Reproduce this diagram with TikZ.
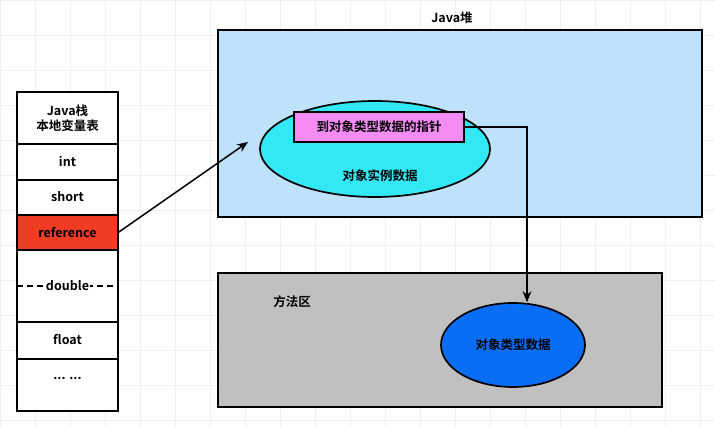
\documentclass[tikz,border=0pt]{standalone}
\usepackage{fontspec}
\setmainfont{Noto Sans CJK SC}[BoldFont={Noto Sans CJK SC Bold}]
\usetikzlibrary{shapes.geometric,arrows.meta}
\begin{document}
\begin{tikzpicture}[x=1pt,y=-1pt,
  cell/.style={draw,line width=1.7pt,fill=white},
  lbl/.style={font=\bfseries\fontsize{12.5}{14}\selectfont},
  conn/.style={-{Stealth[length=11pt,width=9pt]},line width=1.5pt}]
\useasboundingbox (0,0) rectangle (715,427);
\fill[white] (0,0) rectangle (715,427);
\draw[black!6] (0,0) grid[step=35pt] (715,427);
% stack
\draw[cell] (17,92) rectangle (118,144);
\node[lbl,align=center] (hdr) at (67.5,118) {Java栈\\[1pt]本地变量表};
\draw[cell] (17,144) rectangle (118,180); \node[lbl] (i) at (67.5,162) {int};
\draw[cell] (17,180) rectangle (118,215); \node[lbl] (s) at (67.5,197) {short};
\draw[cell,fill={rgb,255:red,240;green,60;blue,35}] (17,215) rectangle (118,250);
\node[lbl,inner sep=0pt,minimum width=101pt,minimum height=35pt] (ref) at (67.5,232.5) {reference};
\draw[cell] (17,250) rectangle (118,322);
\draw[dashed,dash pattern=on 6pt off 4pt,line width=1.7pt] (17,286) -- (118,286);
\node[lbl,fill=white,inner sep=1pt] (d) at (67.5,286) {double};
\draw[cell] (17,322) rectangle (118,359); \node[lbl] (f) at (67.5,340) {float};
\draw[cell] (17,359) rectangle (118,411); \node[lbl] (dots) at (67.5,378) {... ...};
% heap
\node[lbl] (heapt) at (452,18) {Java堆};
\draw[line width=1.7pt,fill={rgb,255:red,190;green,226;blue,252}] (218,30) rectangle (702,217);
\node[ellipse,draw,line width=1.7pt,fill={rgb,255:red,50;green,232;blue,245},minimum width=230pt,minimum height=96pt] (inst) at (375,149) {};
\node[lbl] (instt) at (380,176) {对象实例数据};
\node[draw,line width=1.7pt,fill={rgb,255:red,245;green,140;blue,245},minimum width=170pt,minimum height=30pt,lbl] (ptr) at (379,127) {到对象类型数据的指针};
% method area
\draw[line width=1.7pt,fill={rgb,255:red,192;green,192;blue,192}] (218,273) rectangle (662,407);
\node[lbl] (mt) at (292,302) {方法区};
\node[ellipse,draw,line width=1.7pt,fill={rgb,255:red,10;green,110;blue,245},minimum width=144pt,minimum height=84pt,lbl] (typ) at (513,345) {对象类型数据};
% connectors
\draw[conn] (ref.east) -- (248,142);
\draw[conn] (ptr.east) -| (typ.north -| 527,0);
\end{tikzpicture}
\end{document}
